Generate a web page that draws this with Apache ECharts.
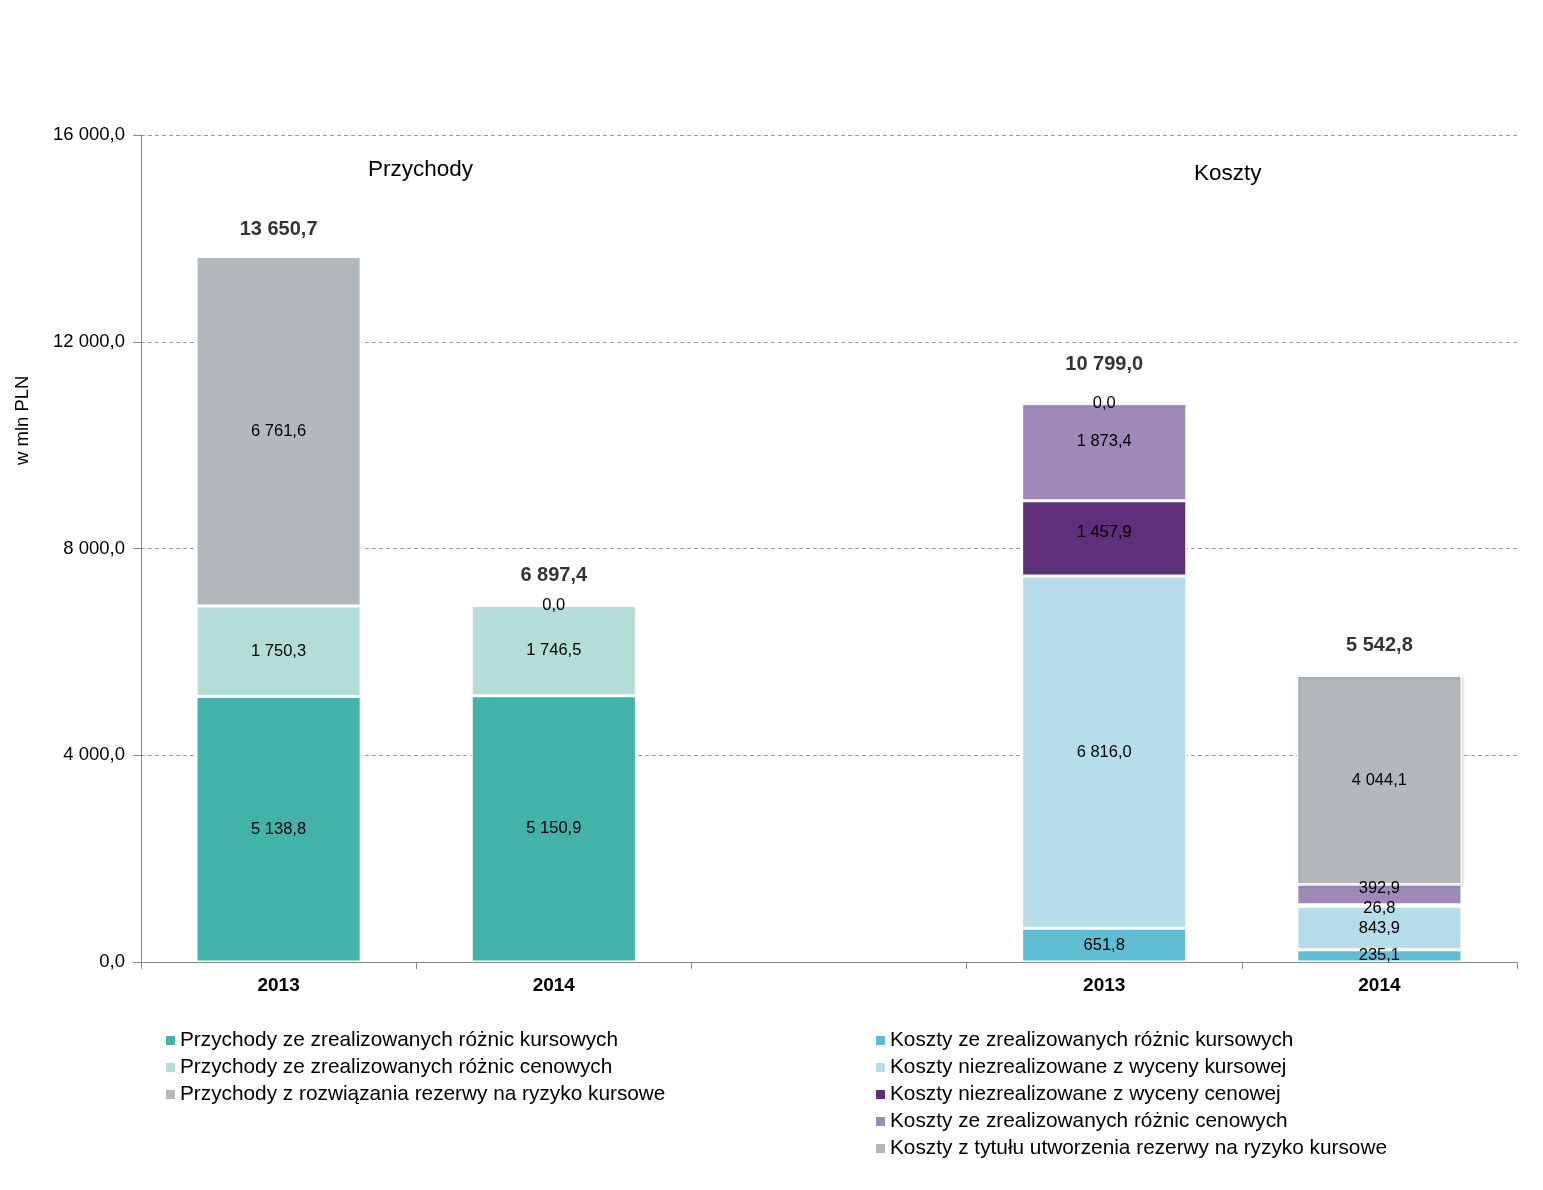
<!DOCTYPE html>
<html>
<head>
<meta charset="utf-8">
<script src="https://cdn.jsdelivr.net/npm/echarts@6/dist/echarts.min.js"></script>
<style>html,body{margin:0;padding:0;background:#fff}#c{width:1543px;height:1190px}</style>
</head>
<body>
<div id="c"></div>
<script>
// ---- data ----
var categoryLabels = ['2013', '2014', '', '2013', '2014'];
var yTicks = [0, 4000, 8000, 12000, 16000];

var seriesNames = [
  'Przychody ze zrealizowanych różnic kursowych',
  'Przychody ze zrealizowanych różnic cenowych',
  'Przychody z rozwiązania rezerwy na ryzyko kursowe',
  'Koszty ze zrealizowanych różnic kursowych',
  'Koszty niezrealizowane z wyceny kursowej',
  'Koszty niezrealizowane z wyceny cenowej',
  'Koszty ze zrealizowanych różnic cenowych',
  'Koszty z tytułu utworzenia rezerwy na ryzyko kursowe'
];
var przychodyKursowe   = [5138.8, 5150.9, null, null, null];
var przychodyCenowe    = [1750.3, 1746.5, null, null, null];
var przychodyRezerwa   = [6761.6, 0.0, null, null, null];
var kosztyKursowe      = [null, null, null, 651.8, 235.1];
var kosztyNiezrKursowe = [null, null, null, 6816.0, 843.9];
var kosztyNiezrCenowe  = [null, null, null, 1457.9, 26.8];
var kosztyCenowe       = [null, null, null, 1873.4, 392.9];
var kosztyRezerwa      = [null, null, null, 0.0, 4044.1];
var totals             = [13650.7, 6897.4, null, 10799.0, 5542.8];
var groupTitles = ['Przychody', 'Koszty'];

var colors = ['#41B3A8', '#B3DED8', '#B3B8BC', '#5EBDD3', '#B5DDEA', '#5E2F7A', '#9E89B8', '#B3B8BC'];
var seriesData = [przychodyKursowe, przychodyCenowe, przychodyRezerwa, kosztyKursowe,
  kosztyNiezrKursowe, kosztyNiezrCenowe, kosztyCenowe, kosztyRezerwa];

// small label nudges (series index -> category index -> [dx, dy])
var labelNudge = { 5: { 3: [0, -6] }, 6: { 3: [0, -11], 4: [0, -6] }, 5.1: {} };
var nudge26 = { 5: { 4: [0, 3] } };

function fmt(v) {
  var s = Math.abs(v).toFixed(1).split('.');
  var intPart = s[0].replace(/\B(?=(\d{3})+(?!\d))/g, ' ');
  return (v < 0 ? '-' : '') + intPart + ',' + s[1];
}

var FONT = '"Liberation Sans", Arial, sans-serif';

function getNudge(si, ci) {
  if (labelNudge[si] && labelNudge[si][ci]) return labelNudge[si][ci];
  if (nudge26[si] && nudge26[si][ci]) return nudge26[si][ci];
  return [0, 0];
}

var series = seriesData.map(function (d, i) {
  var s = {
    name: seriesNames[i],
    type: 'bar',
    stack: 'all',
    barWidth: '60%',
    data: d.map(function (v, ci) {
      if (v == null) return null;
      return { value: v, label: { offset: getNudge(i, ci) } };
    }),
    itemStyle: { color: colors[i], borderColor: '#fff', borderWidth: 1.5 },
    label: {
      show: true, position: 'inside', color: '#000', fontFamily: FONT, fontSize: 16.5,
      formatter: function (p) { return p.value == null ? '' : fmt(p.value); }
    },
    emphasis: { disabled: true }
  };
  if (i === 7) {
    s.itemStyle.shadowBlur = 3;
    s.itemStyle.shadowColor = 'rgba(0,0,0,0.18)';
    s.itemStyle.shadowOffsetX = 1;
    s.itemStyle.shadowOffsetY = 1;
  }
  return s;
});

series.push({
  type: 'scatter',
  symbolSize: 0,
  silent: true,
  data: totals.map(function (v, i) {
    if (v == null) return null;
    return { value: [i, v], label: { offset: [0, i === 3 ? -24 : (i === 0 ? -12 : -15)] } };
  }),
  label: {
    show: true, position: 'top', color: '#000000', fontFamily: FONT, fontSize: 20, fontWeight: 'bold',
    textBorderWidth: 0,
    formatter: function (p) { return fmt(p.value[1]); }
  }
});

var legendCommon = {
  orient: 'vertical', itemWidth: 9, itemHeight: 9, icon: 'rect', itemGap: 4,
  selectedMode: false,
  itemStyle: { borderWidth: 0, shadowBlur: 0 },
  textStyle: { fontFamily: FONT, fontSize: 20.8, color: '#000', lineHeight: 23 }
};

var option = {
  animation: false,
  backgroundColor: '#fff',
  grid: { left: 141, right: 26, top: 135, bottom: 228 },
  legend: [
    Object.assign({ left: 161, top: 1024, data: seriesNames.slice(0, 3) }, legendCommon),
    Object.assign({ left: 871, top: 1024, data: seriesNames.slice(3) }, legendCommon)
  ],
  xAxis: {
    type: 'category',
    data: categoryLabels.map(function (c, i) { return 'c' + i; }),
    axisLine: { lineStyle: { color: '#888', width: 1 } },
    axisTick: { show: true, length: 7, lineStyle: { color: '#888' } },
    axisLabel: {
      color: '#000', fontFamily: FONT, fontSize: 19, fontWeight: 'bold', margin: 14,
      formatter: function (v, i) { return categoryLabels[i]; }
    }
  },
  yAxis: {
    type: 'value',
    min: yTicks[0], max: yTicks[yTicks.length - 1], interval: yTicks[1] - yTicks[0],
    axisLine: { show: true, lineStyle: { color: '#888' } },
    axisTick: { show: true, length: 8, lineStyle: { color: '#888' } },
    axisLabel: { color: '#000', fontFamily: FONT, fontSize: 18.5, margin: 16, formatter: function (v) { return fmt(v); } },
    splitLine: { show: true, lineStyle: { color: '#999', type: [4, 3], width: 1 } }
  },
  graphic: [
    { type: 'text', left: 368, top: 158, style: { text: groupTitles[0], font: '22.5px ' + FONT, fill: '#000' } },
    { type: 'text', left: 1194, top: 162, style: { text: groupTitles[1], font: '22.5px ' + FONT, fill: '#000' } },
    { type: 'text', x: 13, y: 465, rotation: Math.PI / 2, style: { text: 'w mln PLN', font: '18.5px ' + FONT, fill: '#000' } }
  ],
  series: series
};

echarts.init(document.getElementById('c')).setOption(option);
</script>
</body>
</html>
